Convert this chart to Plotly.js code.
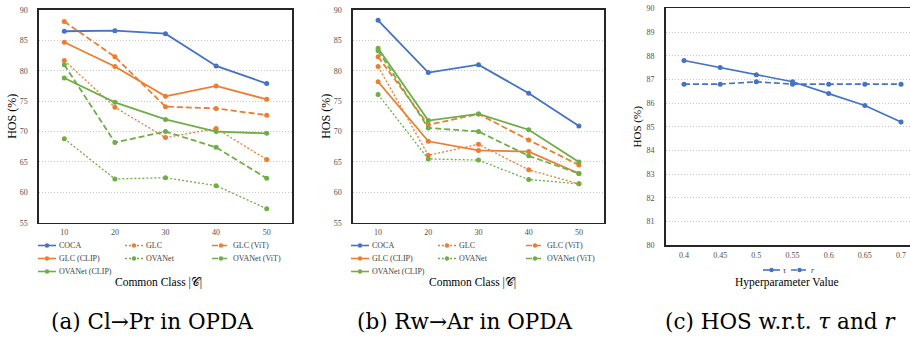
<!DOCTYPE html>
<html><head><meta charset="utf-8">
<script src="https://cdn.plot.ly/plotly-3.0.1.min.js"></script>
<style>body{margin:0;background:#fff;} #chart{width:910px;height:339px;}</style>
</head><body><div id="chart"></div>
<script>
// ---------- data ----------
const commonClass = [10, 20, 30, 40, 50];
const seriesNames = ['COCA', 'GLC', 'GLC (ViT)', 'GLC (CLIP)', 'OVANet', 'OVANet (ViT)', 'OVANet (CLIP)'];
// (a) Cl->Pr
const clprCOCA       = [86.5, 86.6, 86.1, 80.8, 77.9];
const clprGLC        = [81.7, 74.0, 69.0, 70.5, 65.4];
const clprGLCViT     = [88.1, 82.3, 74.1, 73.8, 72.7];
const clprGLCCLIP    = [84.7, 80.7, 75.8, 77.5, 75.3];
const clprOVANet     = [68.8, 62.2, 62.4, 61.1, 57.3];
const clprOVANetViT  = [81.0, 68.2, 70.0, 67.4, 62.3];
const clprOVANetCLIP = [78.8, 74.8, 72.0, 70.0, 69.7];
// (b) Rw->Ar
const rwarCOCA       = [88.3, 79.7, 81.0, 76.3, 70.9];
const rwarGLC        = [80.7, 66.1, 67.9, 63.7, 61.4];
const rwarGLCViT     = [82.3, 71.1, 72.9, 68.6, 64.5];
const rwarGLCCLIP    = [78.2, 68.4, 66.9, 66.7, 63.1];
const rwarOVANet     = [76.1, 65.5, 65.3, 62.1, 61.4];
const rwarOVANetViT  = [83.3, 70.6, 70.0, 66.0, 63.1];
const rwarOVANetCLIP = [83.7, 71.8, 72.9, 70.3, 65.0];
// (c) hyperparameters
const hyperValues = [0.4, 0.45, 0.5, 0.55, 0.6, 0.65, 0.7];
const hyperNames = ['τ', 'r'];
const hosTau = [87.8, 87.5, 87.2, 86.9, 86.4, 85.9, 85.2];
const hosR   = [86.8, 86.8, 86.9, 86.8, 86.8, 86.8, 86.8];
const captions = ['(a) Cl→Pr in OPDA', '(b) Rw→Ar in OPDA', '(c) HOS w.r.t. <i>τ</i> and <i>r</i>'];

// ---------- styles ----------
const BLUE = '#4472C4', ORANGE = '#ED7D31', GREEN = '#70AD47';
const styles = [
  {c: BLUE, d: 'solid'}, {c: ORANGE, d: 'dot'}, {c: ORANGE, d: 'dash'}, {c: ORANGE, d: 'solid'},
  {c: GREEN, d: 'dot'}, {c: GREEN, d: 'dash'}, {c: GREEN, d: 'solid'}
];
function dashOf(d) { return d === 'dot' ? '2px,2px' : (d === 'dash' ? '6px,3px' : 'solid'); }
function widthOf(d) { return d === 'dot' ? 1.3 : 1.8; }

const W = 910, H = 339;
const px = x => x / W, py = y => 1 - y / H;

const panelA = [clprCOCA, clprGLC, clprGLCViT, clprGLCCLIP, clprOVANet, clprOVANetViT, clprOVANetCLIP];
const panelB = [rwarCOCA, rwarGLC, rwarGLCViT, rwarGLCCLIP, rwarOVANet, rwarOVANetViT, rwarOVANetCLIP];

const traces = [];
function addPanel(vals, xa, ya) {
  vals.forEach((v, i) => {
    const s = styles[i];
    traces.push({
      type: 'scatter', mode: 'lines+markers', x: commonClass, y: v, name: seriesNames[i],
      xaxis: xa, yaxis: ya, showlegend: false,
      line: {color: s.c, width: widthOf(s.d), dash: dashOf(s.d)},
      marker: {color: s.c, size: 5}
    });
  });
}
addPanel(panelA, 'x', 'y');
addPanel(panelB, 'x2', 'y2');
[hosTau, hosR].forEach((v, i) => {
  traces.push({
    type: 'scatter', mode: 'lines+markers', x: hyperValues, y: v, name: hyperNames[i],
    xaxis: 'x3', yaxis: 'y3', showlegend: false,
    line: {color: BLUE, width: 1.6, dash: i === 0 ? 'solid' : dashOf('dash')},
    marker: {color: BLUE, size: 5}
  });
});

const SERIF = 'Liberation Serif, Times New Roman, serif';
const tickFont = {family: SERIF, size: 8, color: '#505050'};
const titleFont = {family: SERIF, size: 12, color: '#000'};
function xax(domain, range, tickvals, ticktext, mirror) {
  return {domain, range, tickvals, ticktext, showgrid: false, zeroline: false,
    showline: true, linecolor: '#262626', linewidth: 1.6, mirror: mirror,
    ticks: '', tickfont: tickFont, ticklabelstandoff: 1, fixedrange: true};
}
function yax(domain, range, dtick, anchor, mirror) {
  return {domain, range, dtick, anchor, showgrid: true, gridcolor: '#c8c8c8', griddash: '1px,2px', gridwidth: 1,
    zeroline: false, showline: true, linecolor: '#262626', linewidth: 1.6, mirror: mirror,
    ticks: '', tickfont: tickFont, ticklabelstandoff: 8, fixedrange: true,
    title: {text: 'HOS (%)', font: titleFont, standoff: 0}};
}
const yDomAB = [py(222.7), py(10)];
const yDomC = [py(245.3), py(8.3)];
const layout = {
  width: W, height: H, margin: {l: 0, r: 0, t: 0, b: 0},
  paper_bgcolor: '#fff', plot_bgcolor: '#fff', showlegend: false,
  xaxis:  xax([px(39), px(292)], [5, 55], commonClass, commonClass.map(String), true),
  xaxis2: Object.assign(xax([px(353), px(604)], [5, 55], commonClass, commonClass.map(String), true), {anchor: 'y2'}),
  xaxis3: Object.assign(xax([px(665.7), 1], [0.3747, 0.7124], hyperValues, hyperValues.map(String), true), {anchor: 'y3'}),
  yaxis:  yax(yDomAB, [55, 90], 5, 'x', true),
  yaxis2: yax(yDomAB, [55, 90], 5, 'x2', true),
  yaxis3: Object.assign(yax(yDomC, [80, 90], 1, 'x3', false), {title: {text: 'HOS (%)', font: {family: SERIF, size: 11, color: '#000'}, standoff: 2}}),
  shapes: [], annotations: []
};

// manual legends (lines + markers + labels)
const legFont = {family: SERIF, size: 8, color: '#404040'};
function legendItem(x0, y, color, dash, label, lineLen) {
  lineLen = lineLen || 18;
  layout.shapes.push({type: 'line', xref: 'paper', yref: 'paper', x0: px(x0), x1: px(x0 + lineLen), y0: py(y), y1: py(y),
    line: {color, width: dash === 'dot' ? 1.3 : 1.6, dash: dashOf(dash)}});
  const cx = x0 + lineLen / 2;
  layout.shapes.push({type: 'circle', xref: 'paper', yref: 'paper', x0: px(cx - 2.2), x1: px(cx + 2.2), y0: py(y + 2.2), y1: py(y - 2.2),
    fillcolor: color, line: {width: 0}});
  layout.annotations.push({xref: 'paper', yref: 'paper', x: px(x0 + lineLen + 1), y: py(y), xanchor: 'left', yanchor: 'middle',
    text: label, showarrow: false, font: legFont});
}
function panelLegend(cols) {
  const rows = [245.5, 258.5, 271.5];
  seriesNames.forEach((n, i) => {
    const r = Math.floor(i / 3), c = i % 3;
    legendItem(cols[c], rows[r], styles[i].c, styles[i].d, n);
  });
}
panelLegend([38, 125, 212]);
panelLegend([351, 438, 526]);
legendItem(763, 270, BLUE, 'solid', '<i>' + hyperNames[0] + '</i>', 17);
legendItem(791, 270, BLUE, 'dash', '<i>' + hyperNames[1] + '</i>', 17);

// x axis titles
const xtFont = {family: SERIF, size: 11.5, color: '#000'};
[[158, 'Common Class |𝒞|'], [472, 'Common Class |𝒞|'], [787, 'Hyperparameter Value']].forEach(([x, t]) => {
  layout.annotations.push({xref: 'paper', yref: 'paper', x: px(x), y: py(282), xanchor: 'center', yanchor: 'middle',
    text: t, showarrow: false, font: xtFont});
});
// captions
const capFont = {family: 'DejaVu Serif, serif', size: 21.5, color: '#000'};
[[152, captions[0]], [465, captions[1]], [780, captions[2]]].forEach(([x, t]) => {
  layout.annotations.push({xref: 'paper', yref: 'paper', x: px(x), y: py(321), xanchor: 'center', yanchor: 'middle',
    text: t, showarrow: false, font: capFont});
});

Plotly.newPlot('chart', traces, layout, {staticPlot: true, displayModeBar: false});
</script></body></html>
